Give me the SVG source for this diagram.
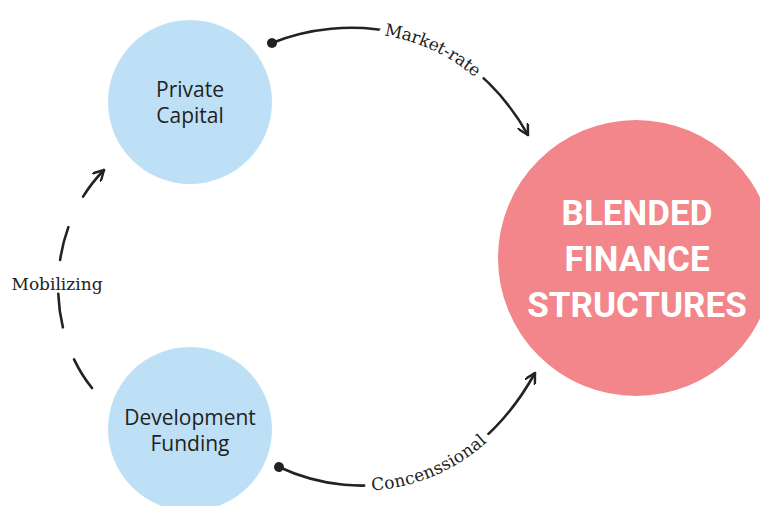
<svg xmlns="http://www.w3.org/2000/svg" width="760" height="506" viewBox="0 0 760 506">
<style>
.bg{fill:#ffffff}
.small{fill:#BEE0F6}
.big{fill:#F2868B}
.nt{font-family:"Open Sans","Noto Sans",sans-serif;font-size:21px;fill:#222;text-anchor:middle}
.bt{font-family:Roboto,"Liberation Sans",sans-serif;font-weight:bold;font-size:35px;fill:#fff;text-anchor:middle}
.conn{fill:none;stroke:#222;stroke-width:2.6;stroke-linecap:round}
.lbl{font-family:"DejaVu Serif","Liberation Serif",serif;font-size:17px;fill:#222}
.halo{fill:#fff;stroke:#fff;stroke-width:14;stroke-linejoin:round}
</style>
<defs>
<marker id="arrow" viewBox="0 0 12 12" refX="11" refY="6" markerWidth="12" markerHeight="12" markerUnits="userSpaceOnUse" orient="auto">
<path d="M1,0.5 L11,6 L1,11.5" fill="none" stroke="#222" stroke-width="2.4" stroke-linecap="round" stroke-linejoin="miter"/>
</marker>
<marker id="dot" viewBox="0 0 12 12" refX="6" refY="6" markerWidth="12" markerHeight="12" markerUnits="userSpaceOnUse" orient="auto">
<circle cx="6" cy="6" r="5" fill="#222"/>
</marker>
<path id="p1" d="M272 43 C340 15 460 15 528 135"/>
<path id="p2" d="M279 467 C360 505 470 490 535 373"/>
</defs>
<rect class="bg" x="0" y="0" width="760" height="506"/>
<g id="node-private-capital">
<circle class="small" cx="190" cy="102" r="82"/>
<text class="nt" x="190" y="97">Private</text>
<text class="nt" x="190" y="123">Capital</text>
</g>
<g id="node-development-funding">
<circle class="small" cx="190" cy="429" r="82"/>
<text class="nt" x="190" y="425">Development</text>
<text class="nt" x="190" y="451">Funding</text>
</g>
<g id="node-blended-finance">
<circle class="big" cx="636" cy="258" r="138"/>
<text class="bt" x="637" y="225">BLENDED</text>
<text class="bt" x="637" y="271">FINANCE</text>
<text class="bt" x="637" y="317">STRUCTURES</text>
</g>
<g id="connectors">
<path class="conn" d="M272 43 C340 15 460 15 528 135" marker-start="url(#dot)" marker-end="url(#arrow)"/>
<text class="lbl halo" dy="5" aria-hidden="true"><textPath href="#p1" startOffset="56%" text-anchor="middle">Market-rate</textPath></text>
<text class="lbl" dy="5"><textPath href="#p1" startOffset="56%" text-anchor="middle">Market-rate</textPath></text>
<path class="conn" d="M279 467 C360 505 470 490 535 373" marker-start="url(#dot)" marker-end="url(#arrow)"/>
<text class="lbl halo" dy="5" aria-hidden="true"><textPath href="#p2" startOffset="52%" text-anchor="middle">Concenssional</textPath></text>
<text class="lbl" dy="5"><textPath href="#p2" startOffset="52%" text-anchor="middle">Concenssional</textPath></text>
<path class="conn" d="M92 388 C45 330 45 230 104 170" pathLength="231" stroke-dasharray="33 33" marker-end="url(#arrow)"/>
<text class="lbl" x="57" y="290" text-anchor="middle">Mobilizing</text>
</g>
</svg>
